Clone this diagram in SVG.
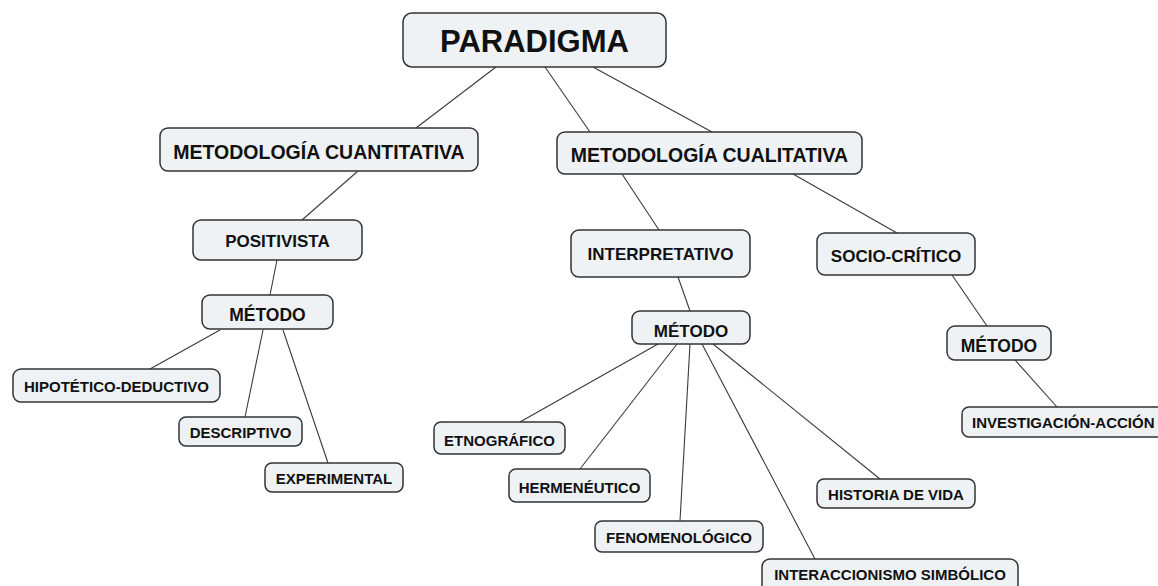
<svg xmlns="http://www.w3.org/2000/svg" width="1158" height="586" viewBox="0 0 1158 586">
<style>
.box{fill:#eef2f5;stroke:#333;stroke-width:1.5}
.t{font-family:"Liberation Sans",Arial,sans-serif;font-weight:bold;fill:#111;text-anchor:middle}
.c line{stroke:#3a3a3a;stroke-width:1.1}
</style>
<rect width="1158" height="586" fill="#fff"/>
<g class="c" id="connectors">
<line x1="496" y1="67" x2="416" y2="128"/>
<line x1="545" y1="67" x2="590" y2="132"/>
<line x1="593" y1="67" x2="712" y2="132"/>
<line x1="358" y1="171" x2="302" y2="220"/>
<line x1="277" y1="260" x2="270" y2="295"/>
<line x1="220" y1="330" x2="150" y2="369"/>
<line x1="263" y1="330" x2="245" y2="417"/>
<line x1="283" y1="330" x2="328" y2="463"/>
<line x1="622" y1="174" x2="659" y2="230"/>
<line x1="793" y1="174" x2="897" y2="233"/>
<line x1="678" y1="277" x2="690" y2="311"/>
<line x1="952" y1="275" x2="987" y2="326"/>
<line x1="1015" y1="360" x2="1057" y2="407"/>
<line x1="658" y1="344" x2="520" y2="422"/>
<line x1="677" y1="344" x2="580" y2="469"/>
<line x1="690" y1="344" x2="680" y2="521"/>
<line x1="702" y1="344" x2="815" y2="559"/>
<line x1="713" y1="344" x2="880" y2="479"/>
</g>
<g id="paradigma"><rect class="box" x="403" y="13" width="263" height="54" rx="9"/><text class="t" x="534.5" y="51.5" font-size="31">PARADIGMA</text></g>
<g id="met-cuantitativa"><rect class="box" x="160" y="128" width="318" height="43" rx="8"/><text class="t" x="319" y="159" font-size="19.5">METODOLOGÍA CUANTITATIVA</text></g>
<g id="met-cualitativa"><rect class="box" x="557" y="132" width="305" height="42" rx="8"/><text class="t" x="709.5" y="162" font-size="19.5">METODOLOGÍA CUALITATIVA</text></g>
<g id="positivista"><rect class="box" x="193" y="220" width="169" height="40" rx="8"/><text class="t" x="277.5" y="247" font-size="17">POSITIVISTA</text></g>
<g id="metodo1"><rect class="box" x="202" y="295" width="131" height="34" rx="8"/><text class="t" x="267.5" y="321" font-size="17.5">MÉTODO</text></g>
<g id="hipotetico"><rect class="box" x="13" y="369" width="207" height="33" rx="8"/><text class="t" x="116.5" y="392" font-size="15">HIPOTÉTICO-DEDUCTIVO</text></g>
<g id="descriptivo"><rect class="box" x="179" y="417" width="123" height="29" rx="7"/><text class="t" x="240.5" y="438" font-size="15">DESCRIPTIVO</text></g>
<g id="experimental"><rect class="box" x="265" y="463" width="138" height="29" rx="7"/><text class="t" x="334" y="484" font-size="15">EXPERIMENTAL</text></g>
<g id="interpretativo"><rect class="box" x="571" y="230" width="179" height="47" rx="8"/><text class="t" x="660.5" y="260" font-size="17">INTERPRETATIVO</text></g>
<g id="metodo2"><rect class="box" x="632" y="311" width="118" height="33" rx="8"/><text class="t" x="691" y="337" font-size="17">MÉTODO</text></g>
<g id="socio-critico"><rect class="box" x="817" y="233" width="158" height="42" rx="8"/><text class="t" x="896" y="262" font-size="17">SOCIO-CRÍTICO</text></g>
<g id="metodo3"><rect class="box" x="947" y="326" width="104" height="34" rx="8"/><text class="t" x="999" y="352" font-size="17.5">MÉTODO</text></g>
<g id="investigacion-accion"><rect class="box" x="962" y="407" width="210" height="30" rx="7"/><text class="t" x="972" y="428" font-size="15" style="text-anchor:start">INVESTIGACIÓN-ACCIÓN</text></g>
<g id="etnografico"><rect class="box" x="434" y="422" width="131" height="32" rx="7"/><text class="t" x="499.5" y="446" font-size="15">ETNOGRÁFICO</text></g>
<g id="hermeneutico"><rect class="box" x="509" y="469" width="141" height="33" rx="7"/><text class="t" x="579.5" y="493" font-size="15">HERMENÉUTICO</text></g>
<g id="fenomenologico"><rect class="box" x="595" y="521" width="168" height="31" rx="7"/><text class="t" x="679" y="543" font-size="15">FENOMENOLÓGICO</text></g>
<g id="historia-de-vida"><rect class="box" x="817" y="479" width="158" height="29" rx="7"/><text class="t" x="896" y="500" font-size="15">HISTORIA DE VIDA</text></g>
<g id="interaccionismo"><rect class="box" x="762" y="559" width="256" height="40" rx="8"/><text class="t" x="890" y="580" font-size="15">INTERACCIONISMO SIMBÓLICO</text></g>
</svg>
